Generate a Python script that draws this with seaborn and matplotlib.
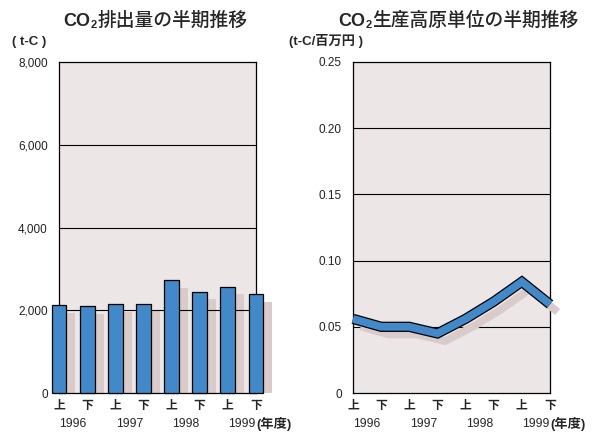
import numpy as np
import pandas as pd
import seaborn as sns
import matplotlib.pyplot as plt
import matplotlib.patheffects as pe

# データ（半期ごと）
halves = ["上", "下", "上", "下", "上", "下", "上", "下"]
years = ["1996", "1997", "1998", "1999"]
co2_emission = [2120, 2100, 2145, 2150, 2725, 2450, 2570, 2390]
co2_intensity = [0.056, 0.050, 0.050, 0.045, 0.056, 0.069, 0.084, 0.067]
co2_ticks = [0, 2000, 4000, 6000, 8000]
co2_ticklabels = ["0", "2,000", "4,000", "6,000", "8,000"]
int_ticks = [0, 0.05, 0.10, 0.15, 0.20, 0.25]
int_ticklabels = ["0", "0.05", "0.10", "0.15", "0.20", "0.25"]

periods = [f"{y}{h}" for y in years for h in ["上", "下"]]
df = pd.DataFrame({"period": periods, "co2": co2_emission, "intensity": co2_intensity})

sns.set_style("white")
plt.rcParams["font.family"] = ["Liberation Sans", "Noto Sans CJK JP", "DejaVu Sans"]

BLUE = "#4189c8"
BG = "#ece6e6"
SHADOW = "#d9cbca"

fig = plt.figure(figsize=(5.95, 4.32), dpi=100)
ax1 = fig.add_axes([59 / 595, 1 - 393 / 432, 197 / 595, 331 / 432])
ax2 = fig.add_axes([353 / 595, 1 - 393 / 432, 197 / 595, 331 / 432])

x = np.arange(len(periods))

# --- 左: 排出量 棒グラフ ---
ax1.set_facecolor(BG)
ax1.bar(x + 0.32, np.array(co2_emission) - 180, width=0.53, color=SHADOW,
        linewidth=0, zorder=1)
sns.barplot(data=df, x="period", y="co2", ax=ax1, color=BLUE, width=0.53,
            edgecolor="black", linewidth=0.9, saturation=1, zorder=3)
for p in ax1.patches:
    p.set_clip_on(False)
ax1.set_xlim(0, 7)
ax1.set_ylim(0, 8000)
ax1.set_yticks(co2_ticks)
ax1.set_yticklabels(co2_ticklabels)
for v in co2_ticks[1:-1]:
    ax1.axhline(v, color="black", lw=0.8, zorder=2)

# --- 右: 原単位 折れ線 ---
ax2.set_facecolor(BG)
sns.lineplot(data=df, x=x, y="intensity", ax=ax2, color=BLUE, lw=5.6,
             solid_joinstyle="miter", solid_capstyle="butt", clip_on=False, zorder=4)
ax2.lines[0].set_path_effects([
    pe.SimpleLineShadow(offset=(5.5, -5.5), shadow_color=SHADOW, alpha=1),
    pe.Stroke(linewidth=7.4, foreground="black"),
    pe.Normal(),
])
ax2.set_xlim(0, 7)
ax2.set_ylim(0, 0.25)
ax2.set_yticks(int_ticks)
ax2.set_yticklabels(int_ticklabels)
for v in int_ticks[1:-1]:
    ax2.axhline(v, color="black", lw=0.8, zorder=2)

for ax in (ax1, ax2):
    ax.set_xlabel("")
    ax.set_ylabel("")
    ax.set_xticks(x)
    ax.set_xticklabels(halves, fontsize=8.5, fontweight="bold")
    ax.tick_params(axis="x", length=4, width=0.8, pad=1, color="black")
    ax.tick_params(axis="y", length=0, pad=8, labelsize=8.5, labelcolor="#222222")
    for s in ax.spines.values():
        s.set_color("black")
        s.set_linewidth(0.9)
    for i, yr in enumerate(years):
        ax.text(2 * i + 0.5, -0.095, yr, transform=ax.get_xaxis_transform(),
                ha="center", va="center", fontsize=8.8)
    ax.text(7.03, -0.095, "(年度)", transform=ax.get_xaxis_transform(),
            ha="left", va="center", fontsize=9.5, fontweight="bold")


def title(ax, x0, rest):
    # "CO" + 小さい "2" + 残り
    t1 = fig.text(x0 / 595, 1 - 26 / 432, "CO", ha="left", va="baseline",
                  fontsize=13, fontweight="bold")
    t2 = ax.annotate("2", xy=(1, 0), xycoords=t1, xytext=(0.1, 0),
                     textcoords="offset points", ha="left", va="bottom",
                     fontsize=8, fontweight="bold")
    ax.annotate(rest, xy=(1, 0), xycoords=(t2, t1), xytext=(0.5, 0),
                textcoords="offset points", ha="left", va="bottom",
                fontsize=13.5, fontweight="medium")


title(ax1, 63, "排出量の半期推移")
title(ax2, 338, "生産高原単位の半期推移")

fig.text(12 / 595, 1 - 42 / 432, "( t-C )", ha="left", va="center",
         fontsize=9.5, fontweight="bold")
fig.text(289 / 595, 1 - 41 / 432, "(t-C/百万円 )", ha="left", va="center",
         fontsize=9.5, fontweight="bold")

fig.savefig("out.png", dpi=100)
